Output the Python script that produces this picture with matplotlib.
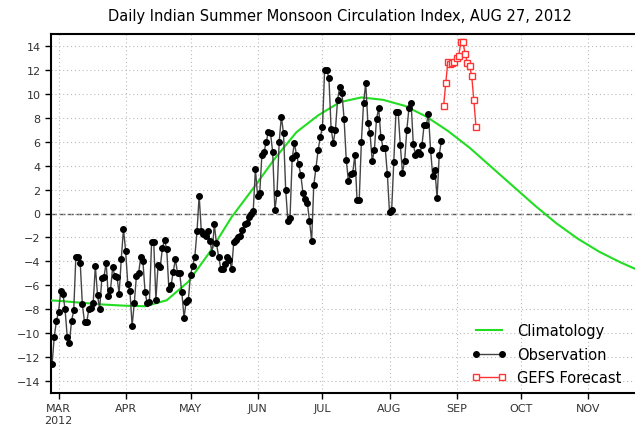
import pandas as pd
import matplotlib
matplotlib.use("Agg")
import matplotlib.pyplot as plt

obs = [
    -12.6, -10.3, -9.0, -8.2, -6.5, -6.7, -8.0, -10.3, -10.8, -9.0,
    -8.1, -3.6, -3.6, -4.1, -7.6, -9.1, -9.1, -8.0, -7.9, -7.5,
    -4.4, -6.8, -8.0, -5.4, -5.3, -4.1, -6.9, -6.4, -4.5, -5.2,
    -5.3, -6.7, -3.8, -1.3, -3.1, -5.9, -6.5, -9.4, -7.5, -5.2,
    -5.0, -3.6, -4.0, -6.6, -7.5, -7.4, -2.4, -2.4, -7.2, -4.3,
    -4.5, -2.9, -2.2, -3.0, -6.3, -6.0, -4.9, -3.8, -5.0, -5.0,
    -6.6, -8.7, -7.4, -7.2, -5.1, -4.4, -3.6, -1.5, 1.5,
    -1.5, -1.7, -1.9, -1.5, -2.3, -3.3, -0.9, -2.5, -3.6, -4.6,
    -4.6, -4.2, -3.6, -3.9, -4.6, -2.4, -2.2, -2.0, -1.9, -1.4,
    -0.9, -0.8, -0.3, 0.0, 0.2,
    3.7, 1.5, 1.7, 4.9, 5.1, 6.0, 6.8, 6.7, 5.1, 0.3,
    1.7, 6.0, 8.1, 6.7, 2.0, -0.6, -0.4, 4.6, 5.9, 4.9,
    4.1, 3.2, 1.7, 1.2, 0.9, -0.6, -2.3, 2.4, 3.8, 5.3,
    6.4, 7.2, 12.0, 12.0, 11.3, 7.1, 5.9, 7.0, 9.5, 10.6,
    10.1, 7.9, 4.5, 2.7, 3.3, 3.4, 4.9, 1.1, 1.1, 6.0,
    9.2, 10.9, 7.6, 6.7, 4.4, 5.3, 7.9, 8.8, 6.4, 5.5,
    5.5, 3.3, 0.1, 0.3, 4.3, 8.5, 8.5, 5.7, 3.4, 4.4,
    7.0, 8.8, 9.2, 5.8, 4.9, 5.1, 5.0, 5.7, 7.4, 7.4,
    8.3, 5.3, 3.1, 3.6, 1.3, 4.9, 6.1,
]
obs_dates = pd.date_range("2012-02-27", periods=len(obs), freq="D")

# GEFS forecast from Aug 26
fcst = [8.95, 10.9, 12.7, 12.5, 12.6, 12.7, 13.0, 13.2, 14.3, 14.3,
        13.3, 12.6, 12.3, 11.5, 9.45, 7.2]
fcst_dates = pd.date_range(obs_dates[-1] + pd.Timedelta(days=1), periods=len(fcst), freq="D")

# climatology, every 10 days from Feb 20
clim = [-7.2, -7.3, -7.45, -7.6, -7.7, -7.75, -7.25, -5.7, -3.2, -0.3,
        2.1, 4.6, 6.8, 8.2, 9.3, 9.7, 9.5, 9.0, 8.1, 6.9,
        5.5, 3.9, 2.3, 0.7, -0.8, -2.1, -3.2, -4.1, -4.9]
clim_dates = pd.date_range("2012-02-20", periods=len(clim), freq="10D")

months = ["MAR\n2012", "APR", "MAY", "JUN", "JUL", "AUG", "SEP", "OCT", "NOV"]
month_dates = pd.date_range("2012-03-01", periods=len(months), freq="MS")

fig = plt.figure(figsize=(6.35, 4.27), dpi=100)
ax = fig.add_axes([51 / 635, 1 - 394 / 427, (635 - 51) / 635, (394 - 35) / 427])

ax.axhline(0, color="#555555", linestyle="--", dashes=(4, 2), linewidth=1, zorder=1)
ax.plot(clim_dates, clim, color="#22dd22", linewidth=1.5, label="Climatology", zorder=3)
ax.plot(obs_dates, obs, color="#444444", linewidth=1, marker="o", markersize=4,
        markerfacecolor="black", markeredgecolor="black", label="Observation", zorder=4)
ax.plot(fcst_dates, fcst, color="#ff3333", linewidth=1, marker="s", markersize=5,
        markerfacecolor="white", markeredgecolor="#ff3333", markeredgewidth=1,
        label="GEFS Forecast", zorder=5)

ax.set_xlim(pd.Timestamp("2012-02-26 12:00"), pd.Timestamp("2012-11-22 12:00"))
ax.set_ylim(-15, 15)
ax.set_yticks(range(-14, 15, 2))
ax.set_xticks(month_dates)
ax.set_xticklabels(months)
ax.tick_params(labelsize=8, labelcolor="#333333", length=4, width=1)
ax.grid(color="#bbbbbb", linestyle=(0, (1, 2.5)), linewidth=0.8)
for side in ["left", "top", "bottom"]:
    ax.spines[side].set_linewidth(1.5)
ax.spines["right"].set_visible(False)

leg = ax.legend(loc="upper left", bbox_to_anchor=(0.72, 0.195), frameon=False,
                fontsize=10.5, handlelength=2.4, handletextpad=0.75,
                labelspacing=0.6, borderpad=0, borderaxespad=0, numpoints=2)

fig.text(340 / 635, 1 - 17 / 427,
         "Daily Indian Summer Monsoon Circulation Index, AUG 27, 2012",
         ha="center", va="center", fontsize=10.5)

fig.savefig("out.png", dpi=100)
